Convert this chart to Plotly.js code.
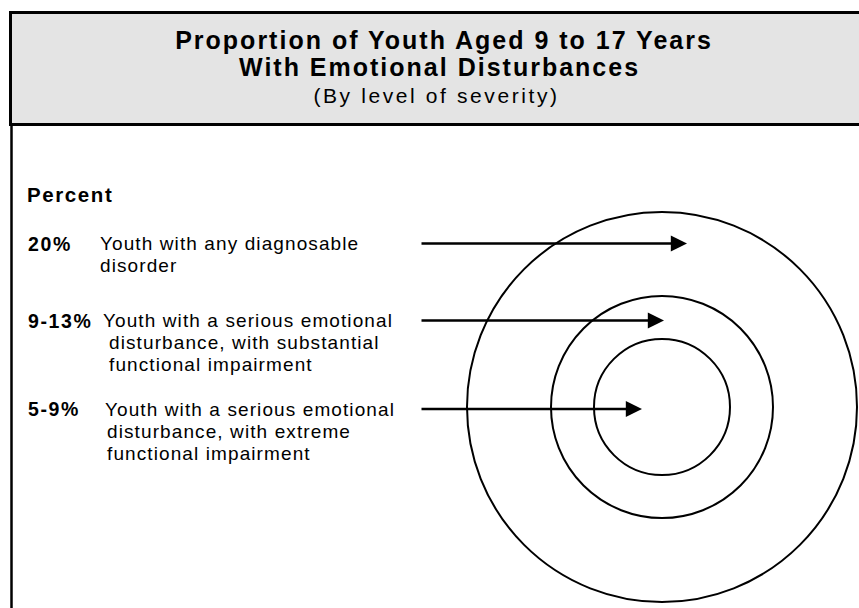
<!DOCTYPE html>
<html>
<head>
<meta charset="utf-8">
<script src="https://cdn.plot.ly/plotly-3.0.1.min.js"></script>
<style>
html, body { margin: 0; padding: 0; background: #ffffff; }
#chart { width: 859px; height: 608px; }
</style>
</head>
<body>
<div id="chart"></div>
<script>
// ---------- data ----------
const titleLines = ["Proportion of Youth Aged 9 to 17 Years", "With Emotional Disturbances"];
const subtitleText = "(By level of severity)";
const unitLabel = "Percent";
const percentLabels = ["20%", "9-13%", "5-9%"];
const descriptionLines = [
  ["Youth with any diagnosable", "disorder"],
  ["Youth with a serious emotional", "disturbance, with substantial", "functional impairment"],
  ["Youth with a serious emotional", "disturbance, with extreme", "functional impairment"]
];

// ---------- layout geometry (pixel-like axis units) ----------
const W = 859, H = 608;
const FONT = "Liberation Sans, Arial, Helvetica, sans-serif";
const rowY = [243.5, 320.5, 409];
const lineGap = 22;
const labelX = 27;
const descFirstX = [100, 103, 105];
const descContX = [100, 109, 107];
const arrowStartX = 420;
const arrowTipX = [687, 664, 642];
const ring = { cx: 662, cy: 407, radii: [195, 111, 68] };

const annotations = [];
annotations.push({
  xref: "x", yref: "y", x: 439, y: 67, xanchor: "center", yanchor: "middle",
  text: "<b>" + titleLines[1] + "</b>", showarrow: false, borderpad: 0, borderwidth: 0,
  font: { family: FONT, size: 25, color: "#000" }
});
annotations.push({
  xref: "x", yref: "y", x: 436, y: 95, xanchor: "center", yanchor: "middle",
  text: subtitleText, showarrow: false, borderpad: 0, borderwidth: 0,
  font: { family: FONT, size: 21, color: "#000" }
});
annotations.push({
  xref: "x", yref: "y", x: labelX, y: 194.5, xanchor: "left", yanchor: "middle", align: "left",
  text: "<b>" + unitLabel + "</b>", showarrow: false, borderpad: 0, borderwidth: 0,
  font: { family: FONT, size: 20.5, color: "#000" }
});
percentLabels.forEach(function (lab, i) {
  annotations.push({
    xref: "x", yref: "y", x: labelX + 1, y: rowY[i], xanchor: "left", yanchor: "middle", align: "left",
    text: "<b>" + lab + "</b>", showarrow: false, borderpad: 0, borderwidth: 0,
    font: { family: FONT, size: 19.5, color: "#000" }
  });
  descriptionLines[i].forEach(function (ln, j) {
    annotations.push({
      xref: "x", yref: "y", x: j === 0 ? descFirstX[i] : descContX[i], y: rowY[i] + j * lineGap,
      xanchor: "left", yanchor: "middle", align: "left",
      text: ln, showarrow: false, borderpad: 0, borderwidth: 0,
      font: { family: FONT, size: 19, color: "#000" }
    });
  });
  annotations.push({
    xref: "x", yref: "y", axref: "x", ayref: "y",
    x: arrowTipX[i], y: rowY[i], ax: arrowStartX, ay: rowY[i],
    text: "", showarrow: true, arrowhead: 2, arrowsize: 1.2, arrowwidth: 2.7,
    arrowcolor: "#000", standoff: 0, startstandoff: 0
  });
});

const shapes = [
  { type: "rect", xref: "x", yref: "y", x0: 10.5, x1: 880, y0: 12.5, y1: 124.5,
    fillcolor: "#e4e4e4", line: { color: "#000", width: 3 }, layer: "below" },
  { type: "line", xref: "x", yref: "y", x0: 11.5, x1: 11.5, y0: 124.5, y1: 620,
    line: { color: "#000", width: 2.5 }, layer: "below" }
];
ring.radii.forEach(function (r) {
  shapes.push({ type: "circle", xref: "x", yref: "y",
    x0: ring.cx - r, x1: ring.cx + r, y0: ring.cy - r, y1: ring.cy + r,
    line: { color: "#000", width: 2 }, fillcolor: "rgba(0,0,0,0)" });
});

const layout = {
  width: W, height: H, autosize: false,
  margin: { l: 0, r: 0, t: 0, b: 0, pad: 0 },
  paper_bgcolor: "#ffffff", plot_bgcolor: "#ffffff",
  showlegend: false,
  title: {
    text: "<b>" + titleLines[0] + "</b>",
    xref: "paper", yref: "paper", x: 444 / W, y: 1 - 40.5 / H,
    xanchor: "center", yanchor: "middle",
    font: { family: FONT, size: 25, color: "#000" }
  },
  xaxis: { range: [0, W], visible: false, fixedrange: true },
  yaxis: { range: [H, 0], visible: false, fixedrange: true },
  shapes: shapes,
  annotations: annotations
};

Plotly.newPlot("chart", [], layout, { staticPlot: true, displayModeBar: false }).then(function () {
  const spacingFor = function (el) {
    const fs = parseFloat(el.style.fontSize) || 19;
    if (fs >= 24) return 2.0;
    if (fs >= 21) return 2.6;
    if (fs >= 20) return 1.6;
    if (fs >= 19.5) return 1.6;
    return 1.1;
  };
  document.querySelectorAll("#chart .annotation-text, #chart .gtitle").forEach(function (el) {
    el.style.letterSpacing = spacingFor(el) + "px";
  });
});
</script>
</body>
</html>
